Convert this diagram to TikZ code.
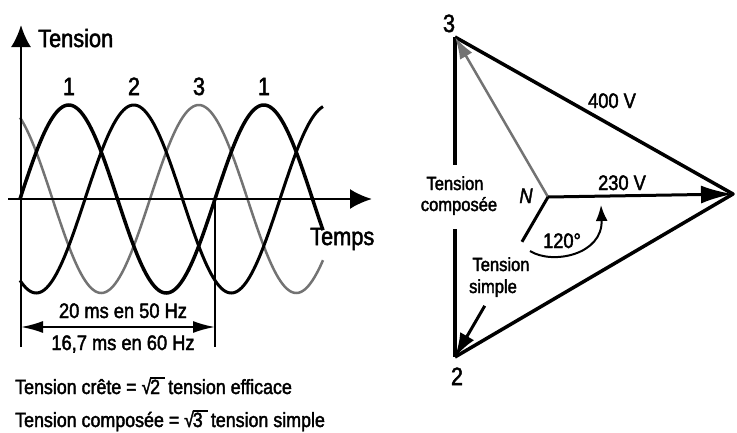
\documentclass[tikz,border=0pt]{standalone}
\usepackage{fontspec}
\setmainfont[FakeStretch=0.87,FakeBold=2]{Liberation Sans}
\usetikzlibrary{arrows.meta,calc}
\newcommand\racine[1]{√\kern-0.06em\rlap{\rule[0.74em]{0.72em}{0.07em}}#1\hspace{0.4em}}
\tikzset{
  axisline/.style={line width=2.5pt,-{Latex[length=22pt,width=20pt]}},
  phaseA/.style={line width=3.5pt},
  phaseB/.style={line width=3pt},
  phaseC/.style={line width=2.5pt,black!55},
  dimline/.style={line width=2pt,{Latex[length=22pt,width=12pt]}-{Latex[length=22pt,width=12pt]}},
  tri/.style={line width=3.5pt,line join=round},
  big/.style={inner sep=0pt,font=\fontsize{25}{28}\selectfont},
  med/.style={inner sep=0pt,font=\fontsize{21}{25}\selectfont},
  small/.style={inner sep=0pt,font=\fontsize{19}{22}\selectfont},
  foot/.style={inner sep=0pt,font=\fontsize{20.5}{24}\selectfont},
}
\begin{document}
\begin{tikzpicture}[x=1pt,y=-1pt]
\useasboundingbox (0,0) rectangle (737,432);
% ---------- left: waveforms ----------
\coordinate (O) at (20,199);
\coordinate (xs) at (8,199);
\coordinate (xe) at (372,199);
\coordinate (ys) at (21,347);
\coordinate (ye) at (21,25);
\coordinate (m1) at (215,199);
\coordinate (m2) at (215,347);
\coordinate (dl) at (21,327);
\coordinate (dr) at (215,327);
\draw[phaseC] plot[domain=20:323,samples=150,smooth] (\x,{199-94*sin(1.8461538*(\x-20)-240)});
\draw[phaseB] plot[domain=20:323,samples=150,smooth] (\x,{199-94*sin(1.8461538*(\x-20)-120)});
\draw[phaseA] plot[domain=20:323,samples=150,smooth] (\x,{199-94*sin(1.8461538*(\x-20))});
\draw[axisline] (xs) -- (xe);
\draw[axisline] (ys) -- (ye);
\draw[line width=2pt] (m1) -- (m2);
\draw[dimline] (dl) -- (dr);
\node[big,anchor=base west] (tY) at (38,47) {Tension};
\node[big,anchor=base west] (tX) at (310,245) {Temps};
\node[big,anchor=base] (p1) at (69,95) {1};
\node[big,anchor=base] (p2) at (134,95) {2};
\node[big,anchor=base] (p3) at (199,95) {3};
\node[big,anchor=base] (p4) at (264,95) {1};
\node[med,anchor=base] (d50) at (123,318) {20 ms en 50 Hz};
\node[med,anchor=base] (d60) at (123,350) {16,7 ms en 60 Hz};
\node[foot,anchor=base west] (f1) at (15,394) {Tension crête = \racine{2}tension efficace};
\node[foot,anchor=base west] (f2) at (15,427) {Tension composée = \racine{3}tension simple};
% ---------- right: phasor triangle ----------
\coordinate (N) at (548,197);
\coordinate (V1) at (733,194);
\coordinate (V2) at (455,357);
\coordinate (V3) at (455,37);
\coordinate (c1) at ($(V3)!0.40!(V2)$);
\coordinate (c2) at ($(V3)!0.60!(V2)$);
\coordinate (s1) at ($(N)!0.28!(V2)$);
\coordinate (s2) at ($(N)!0.68!(V2)$);
\coordinate (aS) at (530,251);
\coordinate (aE) at (601,205);
\draw[tri] (V3) -- (V1) -- (V2);
\draw[tri] (V3) -- (c1);
\draw[tri] (c2) -- (V2);
\draw[line width=2.5pt,black!55,-{Latex[length=22pt,width=14pt]}] (N) -- (V3);
\draw[line width=3pt,-{Latex[length=32pt,width=18pt]}] (N) -- (V1);
\draw[line width=3pt] (N) -- (s1);
\draw[line width=3pt,-{Latex[length=24pt,width=16pt]}] (s2) -- (V2);
\draw[line width=2pt,-{Latex[length=16pt,width=12pt]}] (aS) .. controls (552,265) and (603,255) .. (aE);
\node[big,anchor=base] (L3) at (449,32) {3};
\node[big,anchor=base] (L2) at (457,385) {2};
\node[med,anchor=base] (u400) at (612,108) {400 V};
\node[med,anchor=base] (u230) at (622,190) {230 V};
\node[med,anchor=base] (lN) at (526,203) {\itshape N};
\node[med,anchor=base] (a120) at (562,248) {120°};
\node[small,anchor=base] (tc1) at (455,190) {Tension};
\node[small,anchor=base] (tc2) at (459,211) {composée};
\node[small,anchor=base] (ts1) at (501,271) {Tension};
\node[small,anchor=base] (ts2) at (493,293) {simple};
\end{tikzpicture}
\end{document}
